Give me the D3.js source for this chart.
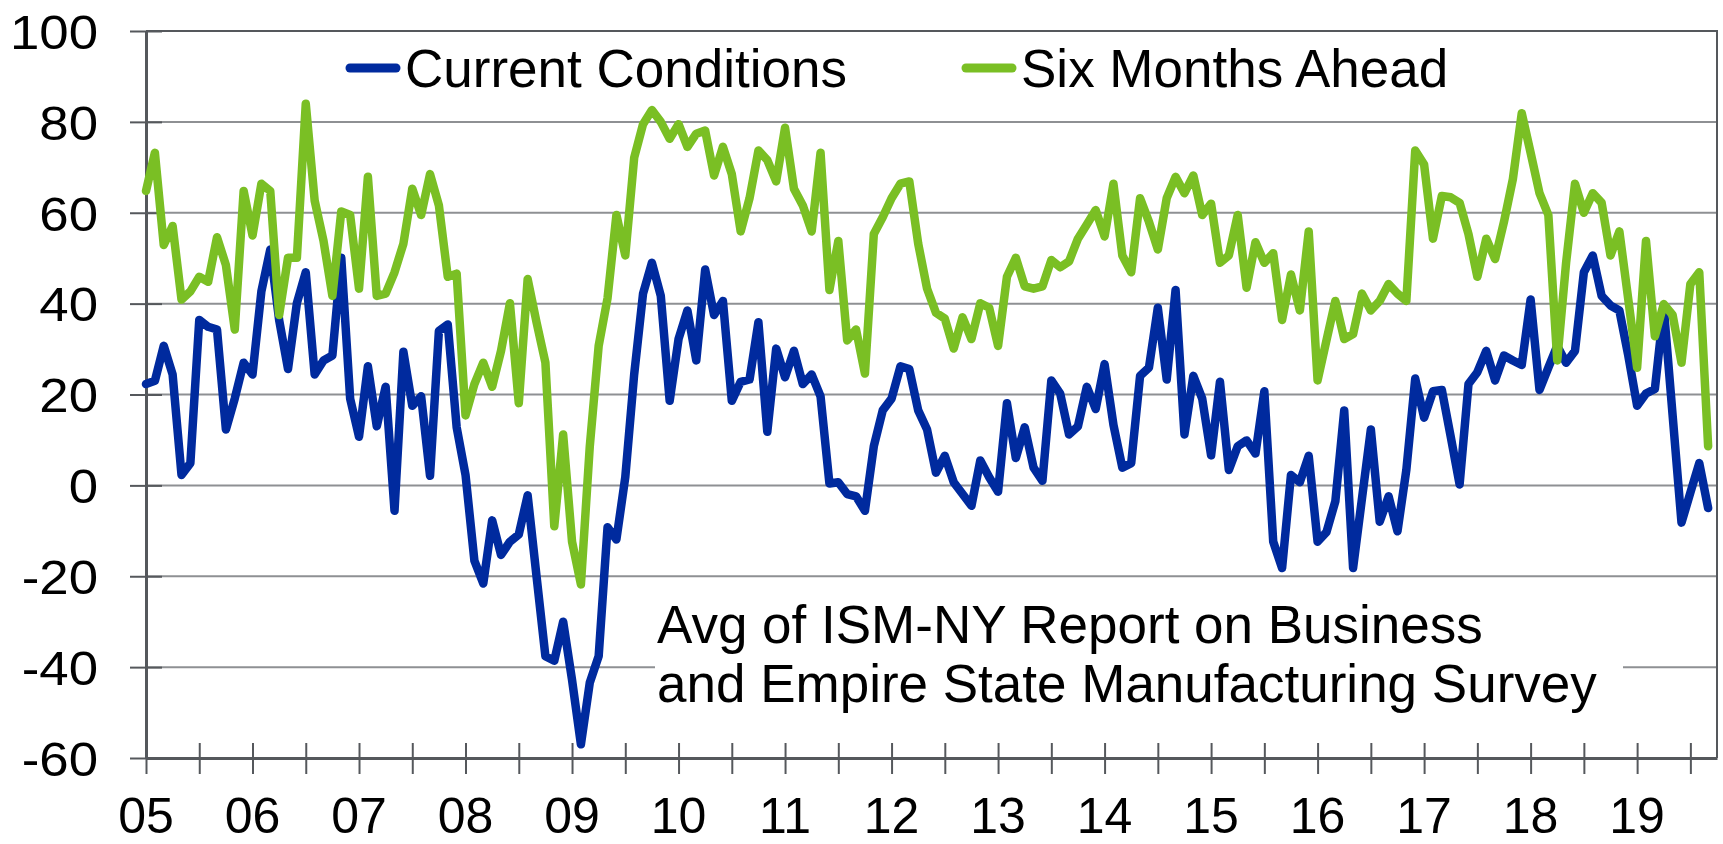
<!DOCTYPE html>
<html>
<head>
<meta charset="utf-8">
<script src="https://cdn.jsdelivr.net/npm/d3@7"></script>
<style>
  html, body { margin: 0; padding: 0; background: #fff; }
  svg { display: block; font-family: 'Liberation Sans', Arial, sans-serif; }
</style>
</head>
<body>
<div id="chart"></div>
<script>
// monthly readings, Jan 2005 .. Sep 2019
const startYear = 2005;
const currentConditions = [
  22.3, 23, 30.7, 24.4, 2.3, 4.9, 36.4, 34.9, 34.3, 12.3, 19.1, 27,
  24.4, 42.7, 51.9, 36.4, 25.6, 40.1, 46.9, 24.4, 27.5, 28.6, 50.1, 19.1,
  10.7, 26.2, 13, 21.7, -5.6, 29.4, 17.5, 19.6, 2.1, 34, 35.4, 12.8,
  2.3, -16.6, -21.6, -7.7, -15.3, -12.4, -10.8, -2.2, -20, -37.6, -38.6, -30,
  -42.8, -57, -43.4, -37.6, -9.2, -11.9, 1.8, 24.4, 42.2, 49, 41.7, 18.6,
  32.2, 38.5, 27.5, 47.5, 37.5, 40.6, 18.6, 22.8, 23.3, 35.9, 11.8, 30.1,
  23.8, 29.6, 22.3, 24.4, 19.6, 0.4, 0.7, -1.9, -2.4, -5.6, 8.6, 16.5,
  19.1, 26.2, 25.6, 16.5, 12.3, 2.8, 6.5, 0.7, -1.9, -4.5, 5.5, 1.8,
  -1.4, 18.1, 6, 12.8, 3.9, 1, 23.1, 20.2, 11.2, 13, 21.7, 16.8,
  26.7, 13.3, 3.9, 4.9, 24.1, 25.9, 39.1, 23.3, 43, 11.2, 24.1, 19.1,
  6.6, 22.8, 3.4, 8.6, 9.9, 7, 20.7, -12.4, -18.2, 2.3, 0.7, 6.5,
  -12.4, -10.3, -3.5, 16.5, -18.2, -2.9, 12.3, -8, -2.4, -10.1, 3.4, 23.5,
  14.9, 20.7, 21, 10.7, 0.2, 22.3, 24.9, 29.6, 23.1, 28.6, 27.5, 26.5,
  40.9, 21, 25.9, 30.7, 27, 29.6, 46.9, 50.6, 41.7, 39.6, 38.5, 28.6,
  17.5, 20.2, 21.2, 39.1, 15.4, -8.2, -1.6, 4.9, -5
];
const sixMonthsAhead = [
  64.8, 73.2, 52.9, 57.1, 40.9, 42.7, 45.9, 44.8, 54.6, 48.5, 34.3, 64.8,
  55, 66.4, 64.8, 37.5, 50.1, 50.1, 84, 62.7, 53.8, 41.7, 60.3, 59.5,
  43.3, 67.9, 41.7, 42.2, 46.9, 53.2, 65.3, 59.5, 68.5, 61.6, 45.9, 46.6,
  15.4, 22.3, 27, 21.7, 29.6, 40.1, 18.1, 45.4, 35.9, 27, -9, 11.2,
  -12.4, -21.8, 8.6, 30.7, 41.2, 59.5, 50.6, 72.1, 79.5, 82.6, 80, 76.3,
  79.5, 74.5, 77.4, 78.1, 68.2, 74.5, 68.5, 55.9, 63.2, 73.7, 71.6, 66.9,
  78.7, 65.3, 61.6, 55.9, 73.2, 43, 53.8, 31.9, 34.3, 24.6, 55.3, 59,
  63.2, 66.4, 66.9, 53.2, 43.3, 38, 36.7, 30.1, 37, 32.2, 40.1, 39.1,
  30.7, 45.9, 50.1, 43.8, 43.3, 43.8, 49.6, 48, 49.3, 54.3, 57.4, 60.6,
  54.8, 66.4, 50.6, 46.9, 63.2, 58, 51.9, 63.2, 67.9, 64.3, 68.2, 59.5,
  62, 49, 50.6, 59.5, 43.5, 53.5, 49, 51.1, 36.4, 46.4, 38.5, 55.9,
  23.1, 31.9, 40.6, 32.2, 33.3, 42.2, 38.5, 40.6, 44.3, 42.2, 40.6, 73.7,
  70.6, 54.3, 63.7, 63.4, 62.2, 55.3, 45.9, 54.3, 49.8, 58, 67.4, 81.9,
  73.2, 64.3, 59.5, 27.5, 49, 66.4, 60, 64.3, 62.2, 50.6, 55.9, 41,
  25.9, 53.8, 32.8, 39.9, 37.5, 27, 44.3, 46.9, 8.6
];
const yearLabels = ['05', '06', '07', '08', '09', '10', '11', '12', '13', '14', '15', '16', '17', '18', '19'];
const yTicks = [-60, -40, -20, 0, 20, 40, 60, 80, 100];
const seriesNames = ['Current Conditions', 'Six Months Ahead'];
const noteLines = ['Avg of ISM-NY Report on Business', 'and Empire State Manufacturing Survey'];

const width = 1723;
const height = 844;
const margin = {top: 31, right: 6, bottom: 86, left: 146};
const blue = '#002a9e';
const green = '#7abf24';
const axisColor = '#55585c';
const gridColor = '#8e9093';

const svg = d3.select('#chart').append('svg')
  .attr('width', width)
  .attr('height', height);

// x is the month index from Jan 2005; axis runs one month past the last reading
const x = d3.scaleLinear()
  .domain([0, 177])
  .range([margin.left, width - margin.right]);

const y = d3.scaleLinear()
  .domain([-60, 100])
  .range([height - margin.bottom, margin.top]);

// gridlines
svg.append('g')
  .selectAll('line')
  .data(yTicks.filter(d => d > -60 && d < 100))
  .enter()
  .append('line')
  .attr('x1', x(0))
  .attr('x2', x(177))
  .attr('y1', d => y(d))
  .attr('y2', d => y(d))
  .style('stroke', gridColor)
  .style('stroke-width', 2);

// plot frame (top + right)
svg.append('path')
  .attr('d', `M${x(0)},${y(100)}H${x(177)}V${y(-60)}`)
  .style('fill', 'none')
  .style('stroke', axisColor)
  .style('stroke-width', 2);

// white box behind the note
svg.append('rect')
  .attr('x', 655)
  .attr('y', 594)
  .attr('width', 968)
  .attr('height', 130)
  .style('fill', '#fff');

// y axis, ticks cross the line
const yAxis = d3.axisLeft(y)
  .tickValues(yTicks)
  .tickSizeInner(-16)
  .tickSizeOuter(0)
  .tickPadding(0)
  .tickFormat(d => String(d));   // plain hyphen, not the unicode minus

const yG = svg.append('g')
  .attr('transform', `translate(${x(0)},0)`)
  .call(yAxis);
yG.select('.domain').style('stroke', axisColor).style('stroke-width', 3);
yG.selectAll('.tick line')
  .attr('x1', -16)
  .attr('x2', 16)
  .style('stroke', axisColor)
  .style('stroke-width', 2);
yG.selectAll('.tick text')
  .attr('x', -48)
  .attr('dy', '0.36em')
  .style('font-size', '48px')
  .style('fill', '#000')
  .each(function() {
    // the source glyphs are a little wider than Arial
    const w = this.getComputedTextLength();
    d3.select(this)
      .attr('textLength', w * 1.1)
      .attr('lengthAdjust', 'spacingAndGlyphs');
  });

// x axis, half-year ticks, year labels on January
const halfYears = d3.range(0, 175, 6);
const xAxis = d3.axisBottom(x)
  .tickValues(halfYears)
  .tickSize(0)
  .tickFormat('');

const xG = svg.append('g')
  .attr('transform', `translate(0,${y(-60)})`)
  .call(xAxis);
xG.select('.domain').style('stroke', axisColor).style('stroke-width', 3);
xG.selectAll('.tick line')
  .attr('y1', -15)
  .attr('y2', 16)
  .style('stroke', axisColor)
  .style('stroke-width', 2);

svg.append('g')
  .selectAll('text')
  .data(yearLabels)
  .enter()
  .append('text')
  .attr('x', (d, i) => x(i * 12))
  .attr('y', 833)
  .attr('text-anchor', 'middle')
  .style('font-size', '50px')
  .text(d => d);

// series lines
const line = d3.line()
  .x((d, i) => x(i))
  .y(d => y(d));

svg.append('path')
  .datum(currentConditions)
  .attr('d', line)
  .style('fill', 'none')
  .style('stroke', blue)
  .style('stroke-width', 8.5)
  .style('stroke-linejoin', 'round')
  .style('stroke-linecap', 'round');

svg.append('path')
  .datum(sixMonthsAhead)
  .attr('d', line)
  .style('fill', 'none')
  .style('stroke', green)
  .style('stroke-width', 8.5)
  .style('stroke-linejoin', 'round')
  .style('stroke-linecap', 'round');

// legend
const legendItems = [
  {name: seriesNames[0], color: blue, x: 350},
  {name: seriesNames[1], color: green, x: 966}
];
const legend = svg.append('g')
  .selectAll('g')
  .data(legendItems)
  .enter()
  .append('g')
  .attr('transform', d => `translate(${d.x},68)`);
legend.append('line')
  .attr('x1', 0)
  .attr('x2', 46)
  .style('stroke', d => d.color)
  .style('stroke-width', 9)
  .style('stroke-linecap', 'round');
legend.append('text')
  .attr('x', 55)
  .attr('y', 19)
  .style('font-size', '53px')
  .text(d => d.name);

// note
svg.append('g')
  .selectAll('text')
  .data(noteLines)
  .enter()
  .append('text')
  .attr('x', 657)
  .attr('y', (d, i) => 643 + i * 59)
  .style('font-size', '53px')
  .text(d => d);
</script>
</body>
</html>
